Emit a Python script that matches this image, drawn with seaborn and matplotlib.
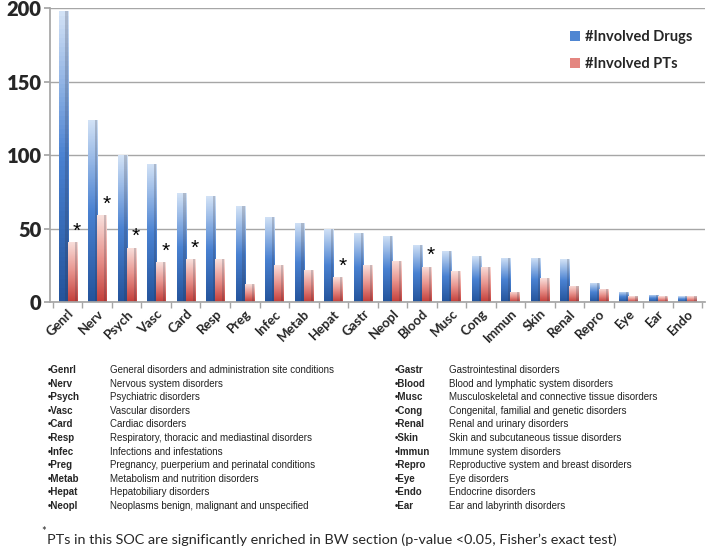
import numpy as np
import pandas as pd
import matplotlib
matplotlib.use("Agg")
import matplotlib.pyplot as plt
from matplotlib.colors import LinearSegmentedColormap
import seaborn as sns

# SOC abbreviations, sorted by number of involved drugs
socs = ["Genrl", "Nerv", "Psych", "Vasc", "Card", "Resp", "Preg", "Infec", "Metab",
        "Hepat", "Gastr", "Neopl", "Blood", "Musc", "Cong", "Immun", "Skin", "Renal",
        "Repro", "Eye", "Ear", "Endo"]
drugs = [198, 124, 100, 94, 74, 72, 65, 58, 54, 50, 47, 45, 39, 35, 31, 30, 30, 29, 13, 7, 5, 4]
pts = [41, 59, 37, 27, 29, 29, 12, 25, 22, 17, 25, 28, 24, 21, 24, 7, 16, 11, 9, 4, 4, 4]
starred = ["Genrl", "Nerv", "Psych", "Vasc", "Card", "Hepat", "Blood"]

left_abbr = ["Genrl", "Nerv", "Psych", "Vasc", "Card", "Resp", "Infec", "Preg", "Metab", "Hepat", "Neopl"]
left_desc = ["General disorders and administration site conditions",
             "Nervous system disorders",
             "Psychiatric disorders",
             "Vascular disorders",
             "Cardiac disorders",
             "Respiratory, thoracic and mediastinal disorders",
             "Infections and infestations",
             "Pregnancy, puerperium and perinatal conditions",
             "Metabolism and nutrition disorders",
             "Hepatobiliary disorders",
             "Neoplasms benign, malignant and unspecified"]
right_abbr = ["Gastr", "Blood", "Musc", "Cong", "Renal", "Skin", "Immun", "Repro", "Eye", "Endo", "Ear"]
right_desc = ["Gastrointestinal disorders",
              "Blood and lymphatic system disorders",
              "Musculoskeletal and connective tissue disorders",
              "Congenital, familial and genetic disorders",
              "Renal and urinary disorders",
              "Skin and subcutaneous tissue disorders",
              "Immune system disorders",
              "Reproductive system and breast disorders",
              "Eye disorders",
              "Endocrine disorders",
              "Ear and labyrinth disorders"]

series = ["#Involved Drugs", "#Involved PTs"]
df = pd.DataFrame({
    "soc": socs * 2,
    "count": drugs + pts,
    "series": [series[0]] * len(socs) + [series[1]] * len(socs),
})

sns.set_theme(style="white")
plt.rcParams['font.family'] = ['Liberation Sans', 'DejaVu Sans']

fig = plt.figure(figsize=(7.09, 5.49), dpi=100)
ax = fig.add_axes([0.0705, 0.45, 0.924, 0.535])

palette = {series[0]: "#4f86d2", series[1]: "#e48680"}
sns.barplot(data=df, x="soc", y="count", hue="series", order=socs, hue_order=series,
            palette=palette, width=0.62, saturation=1, ax=ax, linewidth=0)

# vertical gradient fill per bar (light top, saturated bottom)
cmaps = [LinearSegmentedColormap.from_list("b", ["#24549c", "#4a82d2", "#d2e2f6"]),
         LinearSegmentedColormap.from_list("r", ["#c43f3a", "#e8928c", "#f9e0dc"])]
grad = np.linspace(0, 1, 64).reshape(-1, 1)
for cont, cm in zip(ax.containers, cmaps):
    for bar in cont:
        x0, y0 = bar.get_x(), bar.get_y()
        w, h = bar.get_width(), bar.get_height()
        im = ax.imshow(grad, cmap=cm, origin="lower", aspect="auto",
                       extent=[x0, x0 + w, y0, y0 + h], zorder=bar.get_zorder() + 0.1)
        im.set_clip_path(bar)
        # darker right side face
        ax.add_patch(plt.Rectangle((x0 + w * 0.75, y0), w * 0.25, h, color="#303040",
                                   alpha=0.22, lw=0, zorder=bar.get_zorder() + 0.2))

# significance stars at the top-right of PT bars
for i, s in enumerate(socs):
    if s in starred:
        ax.annotate("*", (i + 0.31, pts[i]), xytext=(0, 1), textcoords="offset points",
                    ha="center", va="bottom", fontsize=15, color="black")

ax.set_xlim(-0.6, 21.6)
ax.set_ylim(0, 200)
ax.set_yticks([0, 50, 100, 150, 200])
ax.yaxis.grid(True, color="#a6a6a6", lw=1)
ax.set_axisbelow(True)
for sp in ["top", "right"]:
    ax.spines[sp].set_visible(False)
ax.spines["left"].set_color("#a6a6a6")
ax.spines["bottom"].set_color("#a6a6a6")
ax.set_xlabel("")
ax.set_ylabel("")

ax.tick_params(axis="y", length=4, color="#a6a6a6", left=True, pad=2)
ax.set_xticks(range(len(socs)))
ax.set_xticks(np.arange(-0.5, len(socs), 1), minor=True)
ax.tick_params(axis="x", which="major", length=0, pad=4)
ax.tick_params(axis="x", which="minor", length=4, color="#a6a6a6", bottom=True)
ax.set_xticklabels(socs, rotation=45, ha="right", rotation_mode="anchor",
                   fontsize=9.5, fontweight="bold", family="Lato")
for t in ax.get_yticklabels():
    t.set_fontsize(14.5)
    t.set_fontweight("heavy")
    t.set_family("Lato")

leg = ax.legend(loc="upper right", bbox_to_anchor=(1.0, 0.97), frameon=False,
                handlelength=0.7, handleheight=0.7, handletextpad=0.3, labelspacing=0.9,
                prop={"family": "Lato", "weight": "bold", "size": 10.5})

# abbreviation key
row_h = 13.6 / 549
y0 = 1 - 370 / 549
for k in range(len(left_abbr)):
    y = y0 - k * row_h
    fig.text(48 / 709, y, "•" + left_abbr[k], fontsize=7, fontweight="bold", va="center")
    fig.text(110 / 709, y, left_desc[k], fontsize=7, va="center", color="#222222")
    fig.text(395 / 709, y, "•" + right_abbr[k], fontsize=7, fontweight="bold", va="center")
    fig.text(449 / 709, y, right_desc[k], fontsize=7, va="center", color="#222222")

# footnote
fig.text(41 / 709, 1 - 532 / 549, "*", fontsize=8, va="center", family="Lato")
fig.text(47 / 709, 1 - 540 / 549,
         "PTs in this SOC are significantly enriched in BW section (p-value <0.05, Fisher\u2019s exact test)",
         fontsize=10.4, va="center", family="Lato")

fig.savefig("out.png", dpi=100)
